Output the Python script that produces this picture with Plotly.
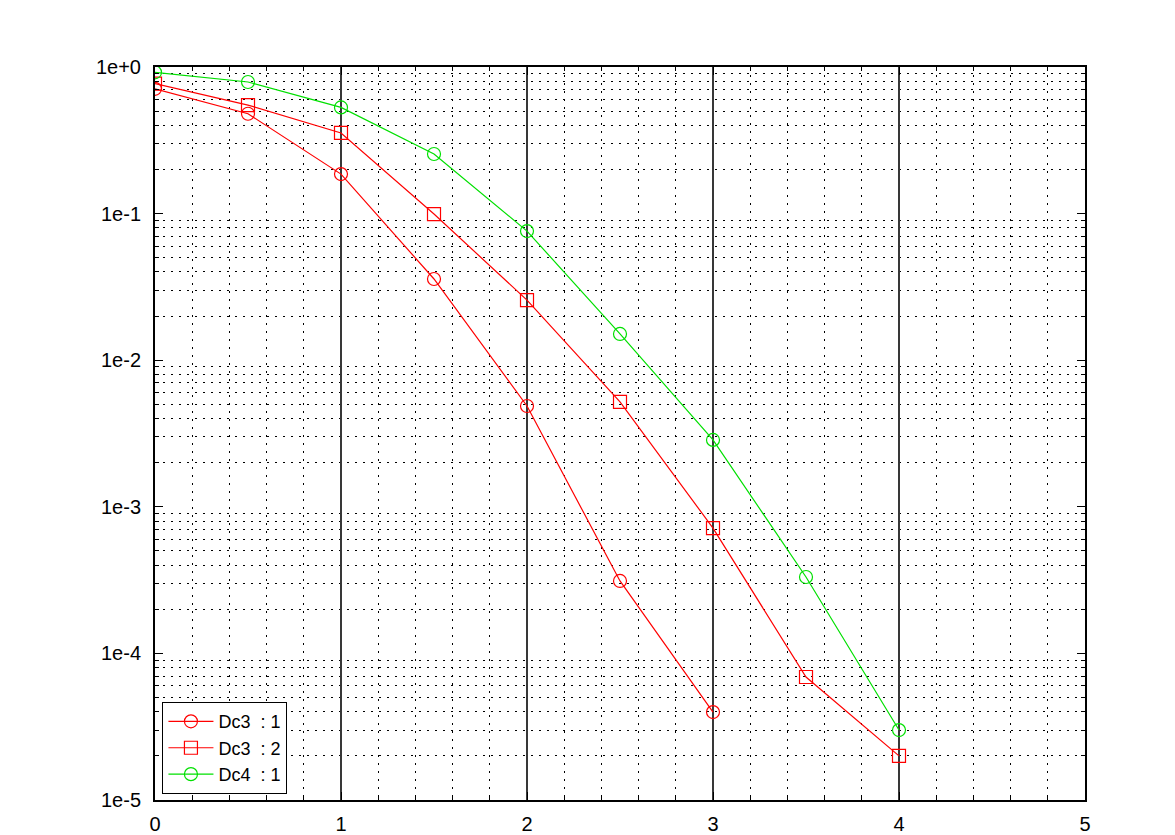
import plotly.graph_objects as go

dc3_1_x = [0, 0.5, 1, 1.5, 2, 2.5, 3]
dc3_1_y = [0.71, 0.48, 0.186, 0.0358, 0.00487, 3.12e-4, 3.98e-5]

dc3_2_x = [0, 0.5, 1, 1.5, 2, 2.5, 3, 3.5, 4]
dc3_2_y = [0.77, 0.55, 0.355, 0.0993, 0.0257, 0.00519, 7.16e-4, 6.9e-5, 2.0e-5]

dc4_1_x = [0, 0.5, 1, 1.5, 2, 2.5, 3, 3.5, 4]
dc4_1_y = [0.92, 0.79, 0.53, 0.255, 0.076, 0.0151, 2.86e-3, 3.32e-4, 3.0e-5]

x_tick_vals = [0, 1, 2, 3, 4, 5]
x_tick_text = ["0", "1", "2", "3", "4", "5"]
y_tick_vals = [1e-5, 1e-4, 1e-3, 1e-2, 1e-1, 1e0]
y_tick_text = ["1e-5", "1e-4", "1e-3", "1e-2", "1e-1", "1e+0"]
y_minor_vals = [m * 10.0 ** e for e in range(-5, 0) for m in range(2, 10)]

fig = go.Figure()
fig.add_trace(go.Scatter(x=dc3_1_x, y=dc3_1_y, mode="lines+markers", name="Dc3  : 1",
                         line=dict(color="#ff0000", width=1.2),
                         marker=dict(symbol="circle-open", size=13, color="#ff0000", line=dict(width=1.2))))
fig.add_trace(go.Scatter(x=dc3_2_x, y=dc3_2_y, mode="lines+markers", name="Dc3  : 2",
                         line=dict(color="#ff0000", width=1.2),
                         marker=dict(symbol="square-open", size=13, color="#ff0000", line=dict(width=1.2))))
fig.add_trace(go.Scatter(x=dc4_1_x, y=dc4_1_y, mode="lines+markers", name="Dc4  : 1",
                         line=dict(color="#00e000", width=1.2),
                         marker=dict(symbol="circle-open", size=13, color="#00e000", line=dict(width=1.2))))

fig.update_layout(
    width=1175, height=835,
    margin=dict(l=147, r=98, t=59, b=43),
    paper_bgcolor="white", plot_bgcolor="white",
    font=dict(family="Liberation Sans, Arial, sans-serif", size=19, color="black"),
    showlegend=True,
    legend=dict(x=0.008, y=0.008, xanchor="left", yanchor="bottom",
                bgcolor="white", bordercolor="black", borderwidth=1,
                font=dict(size=18), tracegroupgap=0, itemwidth=45),
)
fig.update_xaxes(
    range=[0, 5], tickvals=x_tick_vals, ticktext=x_tick_text, automargin=False,
    tickfont=dict(size=20), ticklabelstandoff=5,
    showgrid=True, gridcolor="#383838", gridwidth=2,
    showline=True, linecolor="black", linewidth=2, mirror="allticks",
    ticks="inside", ticklen=8, tickcolor="black", zeroline=False,
    minor=dict(dtick=0.2, showgrid=True, gridcolor="black", gridwidth=1,
               griddash="2px,6px", ticks="inside", ticklen=4, tickcolor="black"),
)
fig.update_yaxes(
    type="log", range=[-5, 0], tickvals=y_tick_vals, ticktext=y_tick_text, automargin=False,
    tickfont=dict(size=20), ticklabelstandoff=8,
    showgrid=False,
    showline=True, linecolor="black", linewidth=2, mirror="allticks",
    ticks="inside", ticklen=8, tickcolor="black", zeroline=False,
    minor=dict(tickvals=y_minor_vals, showgrid=True, gridcolor="black", gridwidth=1,
               griddash="2px,6px", ticks="inside", ticklen=4, tickcolor="black"),
)

fig.write_html("out.html")
